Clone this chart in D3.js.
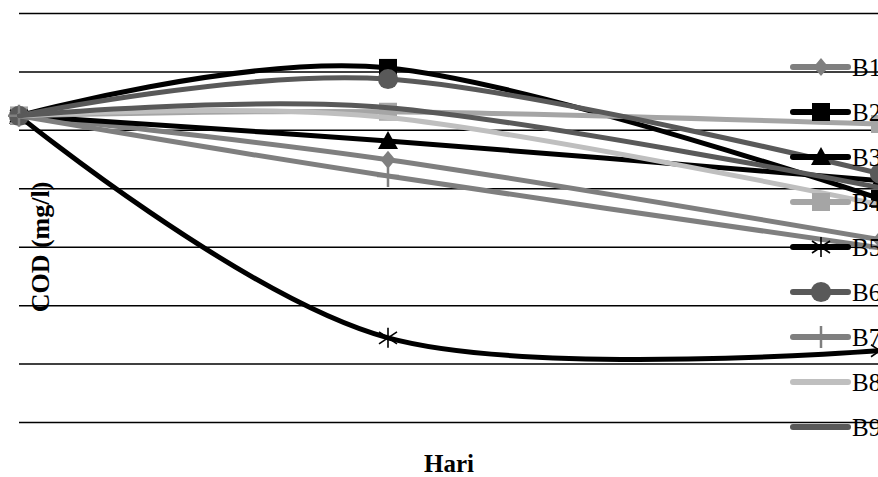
<!DOCTYPE html>
<html><head><meta charset="utf-8">
<script src="https://cdn.jsdelivr.net/npm/d3@7"></script>
<style>html,body{margin:0;padding:0;background:#fff;overflow:hidden}</style>
</head><body>
<svg id="chart" width="878" height="477"></svg>
<script>
// ---- data ----
const days = [0, 3, 7];
const seriesNames = ["B1","B2","B3","B4","B5","B6","B7","B8","B9"];
const B1 = [524, 449, 312];
const B2 = [524, 606, 382];
const B3 = [524, 481, 413];
const B4 = [524, 531, 510];
const B5 = [524, 144, 122];
const B6 = [524, 587, 425];
const B7 = [524, 421, 298];
const B8 = [524, 521, 372];
const B9 = [524, 538, 401];
const yTicks = [0, 100, 200, 300, 400, 500, 600, 700];
const xTitle = "Hari";
const yTitle = "COD (mg/l)";

// ---- styles ----
const seriesValues = [B1,B2,B3,B4,B5,B6,B7,B8,B9];
const colors = ["#7f7f7f","#000000","#000000","#a5a5a5","#000000","#595959","#7f7f7f","#bfbfbf","#595959"];
const markers = ["diamond","square","triangle","square","asterisk","circle","plus","none","none"];

const W = 878, H = 477;
const svg = d3.select("#chart");
const x = d3.scaleLinear().domain([0, 7]).range([19, 880]);
const y = d3.scaleLinear().domain([0, 700]).range([422, 13]);

// gridlines
const grid = svg.append("g").attr("transform", "translate(19,0)")
  .call(d3.axisLeft(y).tickValues(yTicks).tickSize(-(W + 10)).tickFormat(""));
grid.select(".domain").remove();
grid.selectAll(".tick line").attr("stroke", "#000").attr("stroke-width", 1.5);

function markerPath(type) {
  switch (type) {
    case "diamond": return "M0,-9L7.5,0L0,9L-7.5,0Z";
    case "square": return "M-9,-9H9V9H-9Z";
    case "triangle": return "M0,-10L10,8L-10,8Z";
    case "circle": return d3.symbol(d3.symbolCircle, 320)();
    case "asterisk": return "M0,-10V10M-9,-6L9,6M-9,6L9,-6";
    case "plus": return "M0,-11V11M-11,0H11";
  }
  return null;
}
function drawMarker(g, type, color, cx, cy) {
  if (type === "none") return;
  const p = g.append("path").attr("d", markerPath(type)).attr("transform", `translate(${cx},${cy})`);
  if (type === "asterisk") p.attr("fill", "none").attr("stroke", color).attr("stroke-width", 1.6);
  else if (type === "plus") p.attr("fill", "none").attr("stroke", color).attr("stroke-width", 2.5);
  else p.attr("fill", color);
}

const line = d3.line().x(d => x(d[0])).y(d => y(d[1])).curve(d3.curveCardinal.tension(0));

seriesNames.forEach((name, i) => {
  const g = svg.append("g");
  const pts = days.map((d, j) => [d, seriesValues[i][j]]);
  g.append("path").attr("d", line(pts)).attr("fill", "none")
    .attr("stroke", colors[i]).attr("stroke-width", 5).attr("stroke-linecap", "round");
  pts.forEach(p => drawMarker(g, markers[i], colors[i], x(p[0]), y(p[1])));
});

// legend
const legend = svg.append("g");
seriesNames.forEach((name, i) => {
  const ly = 67 + i * 45;
  const g = legend.append("g");
  g.append("line").attr("x1", 793).attr("x2", 848).attr("y1", ly).attr("y2", ly)
    .attr("stroke", colors[i]).attr("stroke-width", 6).attr("stroke-linecap", "round");
  drawMarker(g, markers[i], colors[i], 821, ly);
  g.append("text").attr("x", 852).attr("y", ly).attr("dy", "0.35em")
    .attr("font-family", "'Liberation Serif', 'Times New Roman', serif")
    .attr("font-size", 25).attr("fill", "#000").text(name);
});

// axis titles
svg.append("text").attr("x", 449).attr("y", 472).attr("text-anchor", "middle")
  .attr("font-family", "'Liberation Serif', 'Times New Roman', serif")
  .attr("font-weight", "bold").attr("font-size", 25).text(xTitle);
svg.append("text").attr("transform", "translate(49,247) rotate(-90)").attr("text-anchor", "middle")
  .attr("font-family", "'Liberation Serif', 'Times New Roman', serif")
  .attr("font-weight", "bold").attr("font-size", 26).text(yTitle);
</script>
</body></html>
